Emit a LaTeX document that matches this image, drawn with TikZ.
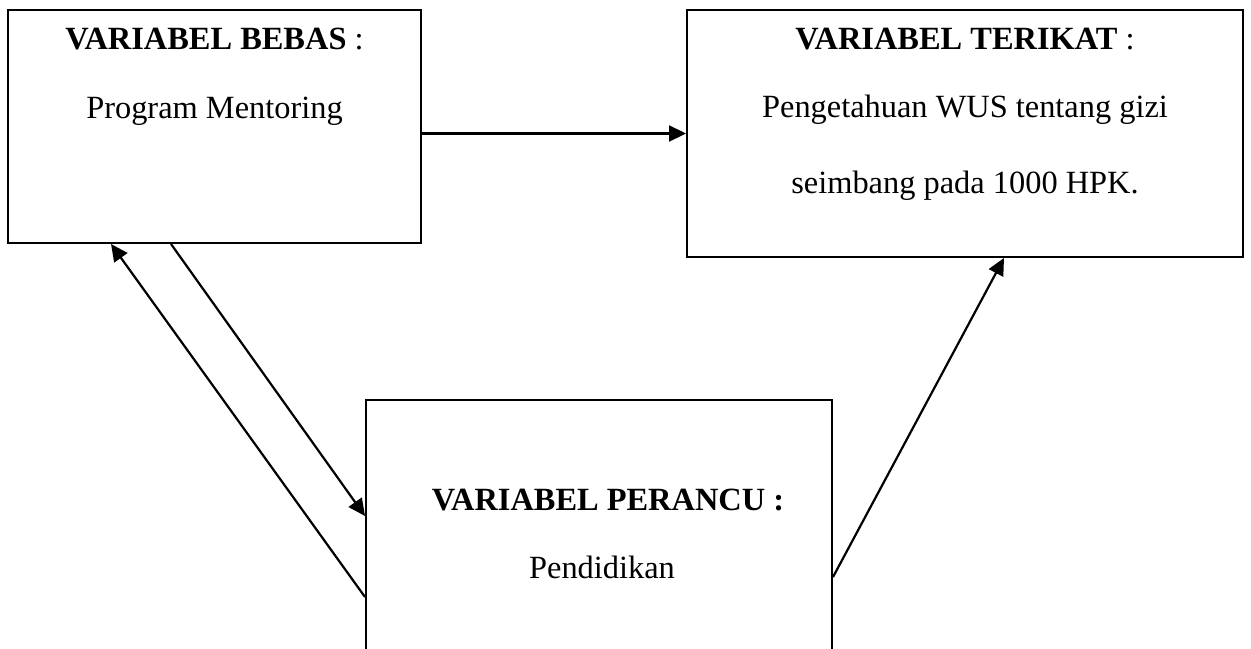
\documentclass[tikz,border=0pt]{standalone}
\usepackage{fontspec}
\setmainfont{Liberation Serif}
\usetikzlibrary{arrows.meta,calc}
\begin{document}
\begin{tikzpicture}[x=0.5pt,y=-0.5pt,
  box/.style={draw,line width=1pt,rectangle,inner sep=0pt},
  lbl/.style={anchor=base,inner sep=0pt,font=\fontsize{16.2pt}{19pt}\selectfont},
  arr/.style={line width=1.1pt,-{Triangle[length=8.5pt,width=8pt]}}]
\useasboundingbox (0,0) rectangle (1251,648);
\node[box,minimum width=206.5pt,minimum height=116.5pt] (b1) at (214.5,126.5) {};
\node[box,minimum width=278pt,minimum height=123.5pt] (b2) at (965,133.5) {};
\node[box,minimum width=233pt,minimum height=130pt] (b3) at (599,530) {};
\node[lbl] (t1) at (214.5,49) {\textbf{VARIABEL BEBAS} :};
\node[lbl] (t2) at (214.5,118) {Program Mentoring};
\node[lbl] (t3) at (965,49) {\textbf{VARIABEL TERIKAT} :};
\node[lbl] (t4) at (965,117) {Pengetahuan WUS tentang gizi};
\node[lbl] (t5) at (965,193) {seimbang pada 1000 HPK.};
\node[lbl] (t6) at (608,510) {\textbf{VARIABEL PERANCU :}};
\node[lbl] (t7) at (602,578) {Pendidikan};
\draw[arr] (b1.east |- b2.west) -- (b2.west);
\draw[arr] ($(b1.south west)+(164,0)$) -- ($(b3.north west)+(0,117)$);
\draw[arr] ($(b3.north west)+(0,198)$) -- ($(b1.south west)+(104,0)$);
\draw[arr] ($(b3.north east)+(0,178)$) -- ($(b2.south west)+(318,0)$);
\end{tikzpicture}
\end{document}
